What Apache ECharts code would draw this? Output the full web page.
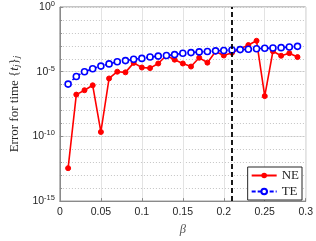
<!DOCTYPE html>
<html>
<head>
<meta charset="utf-8">
<script src="https://cdn.jsdelivr.net/npm/echarts@6/dist/echarts.min.js"></script>
<style>html,body{margin:0;padding:0;background:#fff}#c{width:316px;height:241px}</style>
</head>
<body>
<div id="c"></div>
<script>
var betaValues = [0.01,0.02,0.03,0.04,0.05,0.06,0.07,0.08,0.09,0.10,0.11,0.12,0.13,0.14,0.15,0.16,0.17,0.18,0.19,0.20,0.21,0.22,0.23,0.24,0.25,0.26,0.27,0.28,0.29];
var neErrors = [3.5e-13,1.7e-7,3.7e-7,8.9e-7,2.2e-10,3.0e-6,1.0e-5,8.9e-6,4.8e-5,2.1e-5,1.9e-5,4.3e-5,1.8e-4,8.5e-5,4.3e-5,2.5e-5,1.2e-4,5.0e-5,3.6e-4,1.8e-4,2.9e-4,5.8e-4,1.15e-3,2.45e-3,1.3e-7,3.8e-4,1.7e-4,2.7e-4,1.35e-4];
var teErrors = [1.1e-6,4.3e-6,1.0e-5,1.7e-5,2.7e-5,4.0e-5,5.8e-5,7.2e-5,9.1e-5,1.07e-4,1.35e-4,1.6e-4,1.8e-4,2.1e-4,2.7e-4,3.0e-4,3.4e-4,3.6e-4,4.1e-4,4.3e-4,4.8e-4,5.1e-4,5.4e-4,6.0e-4,6.5e-4,6.8e-4,7.2e-4,8.1e-4,9.1e-4];
var seriesNames = ['NE','TE'];
var xTicks = [0,0.05,0.1,0.15,0.2,0.25,0.3];
var yTickExponents = [-15,-10,-5,0];
var thresholdBeta = 0.2085;

var chart = echarts.init(document.getElementById('c'), null, {renderer:'canvas'});
function pairs(xs, ys){ return xs.map(function(x,i){ return [x, ys[i]]; }); }
var axisCol = '#262626';
var tickFont = 'Liberation Sans, Arial, sans-serif';
var serif = 'Liberation Serif, Times New Roman, serif';
var option = {
  animation:false,
  backgroundColor:'#fff',
  grid:{left:49,right:9,top:7,bottom:35,show:true,borderColor:'#8a8a8a',borderWidth:1,backgroundColor:'transparent'},
  xAxis:{
    type:'value', min:xTicks[0], max:xTicks[xTicks.length-1], interval:0.05,
    name:'β', nameLocation:'middle', nameGap:19,
    nameTextStyle:{fontFamily:serif, fontStyle:'italic', fontSize:12.5, color:'#555'},
    axisLine:{show:true, lineStyle:{color:'#8a8a8a'}},
    axisTick:{show:true, inside:true, length:3, lineStyle:{color:'#8a8a8a'}},
    axisLabel:{color:axisCol, fontFamily:tickFont, fontSize:10.5, margin:6,
      formatter:function(v){ return String(Math.round(v*100)/100); }},
    splitLine:{show:true, lineStyle:{color:'#e3e3e3', width:1}}
  },
  yAxis:[{
    type:'log', logBase:10, min:Math.pow(10,yTickExponents[0]), max:Math.pow(10,yTickExponents[yTickExponents.length-1]), interval:5,
    name:'Error for time {{i|t}{s|j}}{s|j}', nameLocation:'middle', nameGap:36,
    nameTextStyle:{fontFamily:serif, fontSize:13, color:axisCol,
      rich:{i:{fontFamily:serif, fontStyle:'italic', fontSize:13, color:axisCol},
            s:{fontFamily:serif, fontStyle:'italic', fontSize:9, color:axisCol, verticalAlign:'bottom', padding:[5,0,0,0]}}},
    axisLine:{show:true, lineStyle:{color:'#8a8a8a'}},
    axisTick:{show:true, inside:true, length:3, lineStyle:{color:'#8a8a8a'}},
    axisLabel:{color:axisCol, fontFamily:tickFont, margin:5,
      formatter:function(v){ return '{b|10}{e|' + Math.round(Math.log10(v)) + '}'; },
      rich:{b:{fontFamily:tickFont, fontSize:10.5, color:axisCol},
            e:{fontFamily:tickFont, fontSize:7.5, color:axisCol, verticalAlign:'top', padding:[0,0,6,0]}}},
    splitLine:{show:true, lineStyle:{color:'#e3e3e3', width:1}}
  },{
    type:'log', logBase:10, min:Math.pow(10,yTickExponents[0]), max:Math.pow(10,yTickExponents[yTickExponents.length-1]), interval:1,
    position:'left', axisLine:{show:false}, axisTick:{show:true, inside:true, length:2, lineStyle:{color:'#8a8a8a'}},
    axisLabel:{show:false},
    splitLine:{show:true, lineStyle:{color:'#c4c4c4', width:1, type:[1,2]}}
  }],
  legend:{
    orient:'vertical', right:14, bottom:41, itemWidth:25, itemHeight:7, itemGap:3,
    padding:[2,3,2,3], borderColor:axisCol, borderWidth:1, backgroundColor:'#fff',
    textStyle:{fontFamily:serif, fontSize:13, color:axisCol}, data:seriesNames
  },
  series:[
    {name:seriesNames[0], type:'line', data:pairs(betaValues, neErrors), yAxisIndex:0,
     lineStyle:{color:'#ff0000', width:1.6}, itemStyle:{color:'#ff0000', borderColor:'#ff0000'},
     symbol:'circle', symbolSize:5, showSymbol:true, z:3,
     markLine:{silent:true, symbol:['none','none'], label:{show:false},
       lineStyle:{color:'#000', type:[5,3], width:1.8}, data:[{xAxis:thresholdBeta}]}},
    {name:seriesNames[1], type:'line', data:pairs(betaValues, teErrors), yAxisIndex:0,
     lineStyle:{color:'#0000ff', width:1.6, type:[4,2]}, itemStyle:{color:'#fff', borderColor:'#0000ff', borderWidth:1.6},
     symbol:'circle', symbolSize:6, showSymbol:true, z:4}
  ]
};
chart.setOption(option);
</script>
</body>
</html>
